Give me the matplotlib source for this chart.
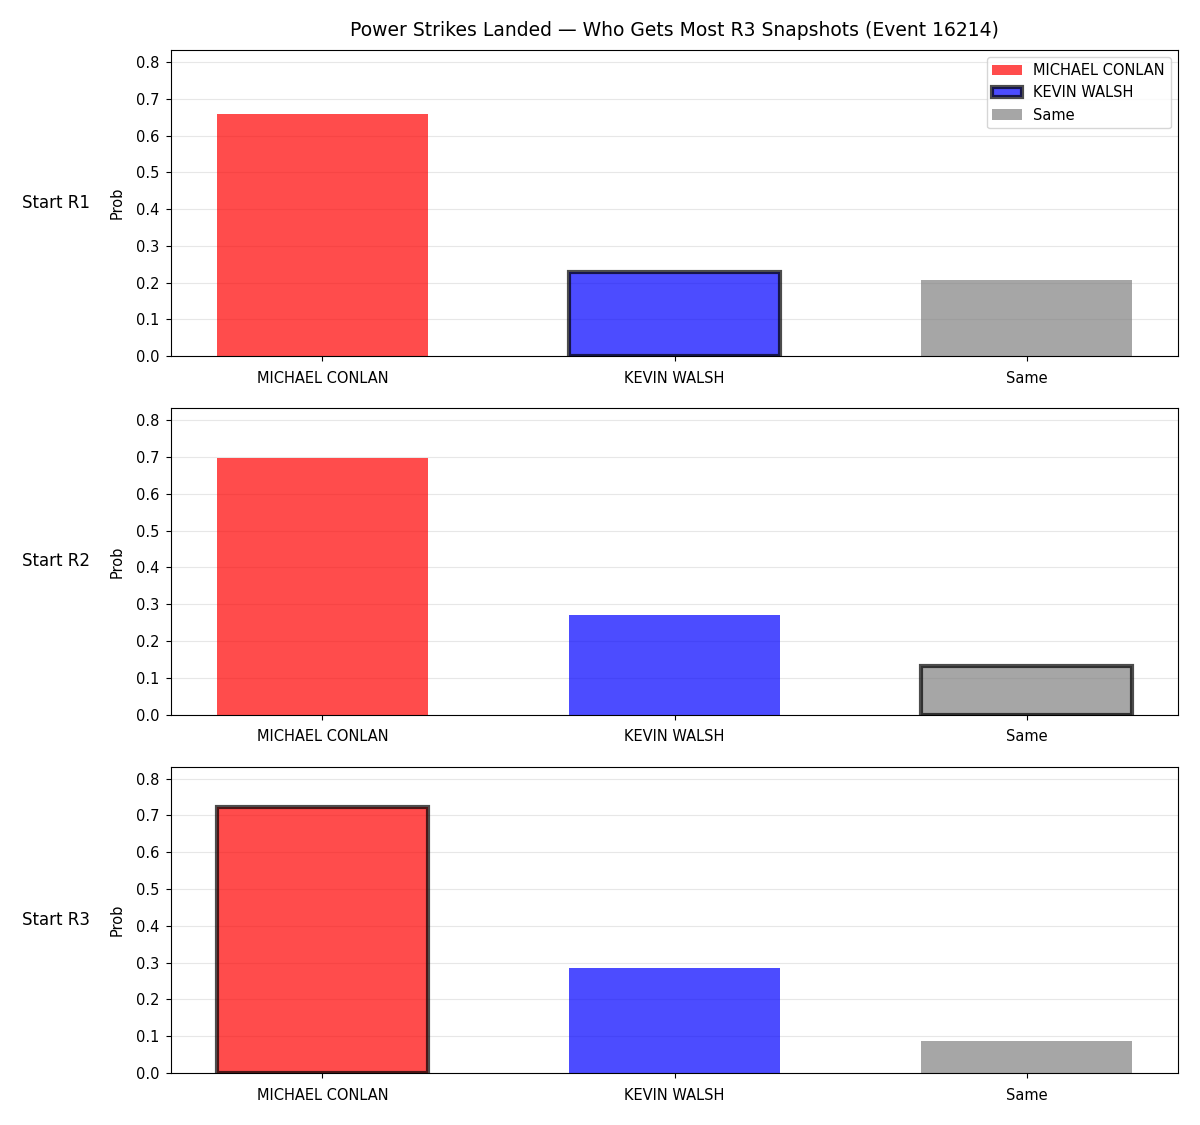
import matplotlib
matplotlib.use('Agg')
import matplotlib.pyplot as plt

# donnees
categories = ['MICHAEL CONLAN', 'KEVIN WALSH', 'Same']
rounds = ['Start R1', 'Start R2', 'Start R3']
probs = [
    [0.659, 0.229, 0.207],
    [0.697, 0.272, 0.131],
    [0.724, 0.286, 0.087],
]
# barre mise en evidence pour chaque round
highlight = ['KEVIN WALSH', 'Same', 'MICHAEL CONLAN']
colors = ['red', 'blue', 'gray']

fig, axes = plt.subplots(3, 1, figsize=(12, 11.25), dpi=100)
fig.subplots_adjust(left=0.1425, right=0.9817, top=0.9556, bottom=0.0462, hspace=0.17)

ymax = max(max(p) for p in probs) * 1.15
x = list(range(len(categories)))

for i, ax in enumerate(axes):
    bars = ax.bar(x, probs[i], width=0.6, color=colors, alpha=0.7)
    for bar, cat in zip(bars, categories):
        if cat == highlight[i]:
            bar.set_edgecolor('black')
            bar.set_linewidth(3)
    ax.set_xticks(x)
    ax.set_xticklabels(categories)
    ax.tick_params(axis='x', labelsize=10.5, pad=7)
    ax.tick_params(axis='y', labelsize=10.5, pad=5)
    ax.set_ylim(0, ymax)
    ax.set_ylabel('Prob', fontsize=10.5, labelpad=8)
    ax.grid(axis='y', alpha=0.3)
    ax.set_axisbelow(True)
    ax.text(-0.08, 0.5, rounds[i], transform=ax.transAxes,
            ha='right', va='center', fontsize=12)
    if i == 0:
        ax.set_title('Power Strikes Landed \u2014 Who Gets Most R3 Snapshots (Event 16214)',
                     fontsize=13.5, pad=10)
        ax.legend(bars, categories, loc='upper right', fontsize=10.5)

fig.savefig('out.png', dpi=100)
